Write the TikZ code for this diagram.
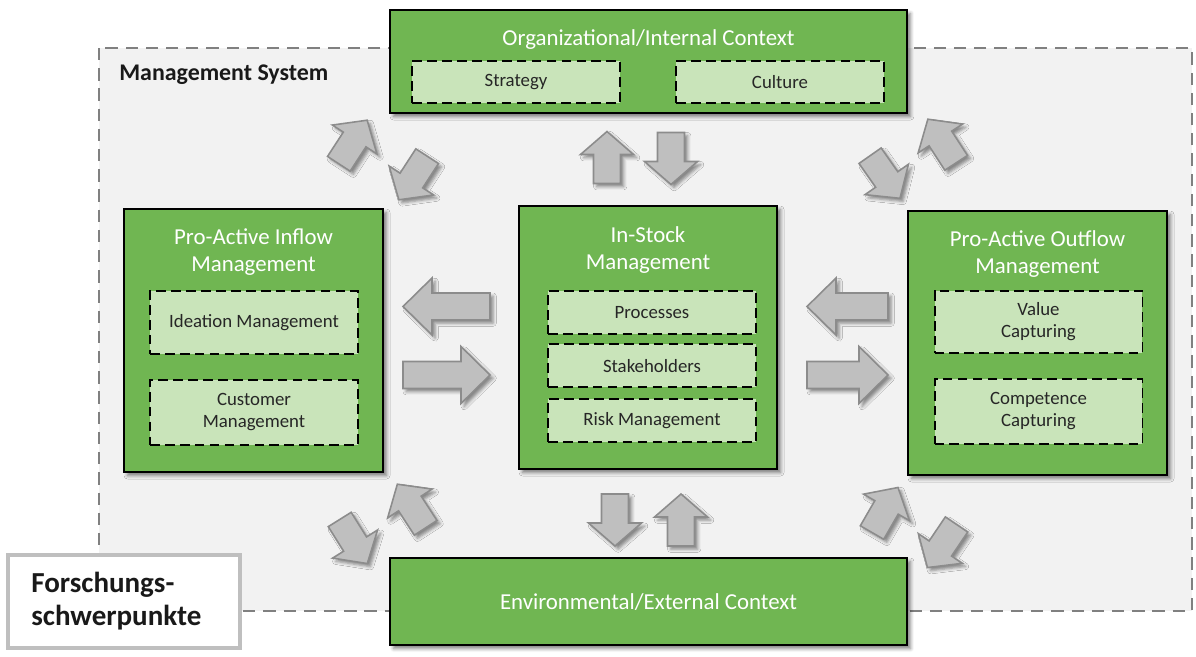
\documentclass[tikz,border=0pt]{standalone}
\usepackage{fontspec}
\setmainfont{Carlito}
\usepackage{tikz}
\usetikzlibrary{positioning,shadows.blur}
\definecolor{boxgreen}{HTML}{70B652}
\definecolor{subgreen}{HTML}{C9E4BA}
\definecolor{fatgray}{HTML}{BFBFBF}
\definecolor{fatline}{HTML}{8C8C8C}
\definecolor{bggray}{HTML}{F2F2F2}
\definecolor{framegray}{HTML}{808080}
\definecolor{labelgray}{HTML}{BFBFBF}
\tikzset{
    %Define style for the green boxes
    mainbox/.style={
           rectangle,
           draw=black, line width=1.1pt,
           fill=boxgreen,
           inner sep=0pt,
           blur shadow={shadow xshift=2pt, shadow yshift=-2pt,
                        shadow blur radius=2pt, shadow opacity=50}},
    %Define style for the dashed boxes inside
    subbox/.style={
           rectangle,
           draw=black, line width=1.1pt,
           dash pattern=on 5.5pt off 3pt,
           fill=subgreen,
           minimum width=4.16cm,
           align=center,
           text=black!85,
           font=\fontsize{10.7}{12.5}\selectfont},
    %Define style for box titles
    boxtitle/.style={
           align=center,
           text=white,
           inner sep=0pt,
           font=\fontsize{13}{15.3}\selectfont},
    %Define style for the block arrows
    fatshape/.style={
           draw=fatline, line width=0.9pt,
           fill=fatgray,
           blur shadow={shadow xshift=1.8pt, shadow yshift=-1.8pt,
                        shadow blur radius=1.8pt, shadow opacity=45}},
    fatshort/.pic={
           \path[fatshape] (-26,-13.5) -- (3,-13.5) -- (3,-26.5) -- (26,0)
                -- (3,26.5) -- (3,13.5) -- (-26,13.5) -- cycle;},
    fatlong/.pic={
           \path[fatshape] (-43.5,-13.5) -- (14.5,-13.5) -- (14.5,-28.5) -- (43.5,0)
                -- (14.5,28.5) -- (14.5,13.5) -- (-43.5,13.5) -- cycle;},
    fatmid/.pic={
           \path[fatshape] (-40.5,-13.5) -- (11.5,-13.5) -- (11.5,-28.5) -- (40.5,0)
                -- (11.5,28.5) -- (11.5,13.5) -- (-40.5,13.5) -- cycle;}
}
\begin{document}
\begin{tikzpicture}[x=0.02cm,y=-0.02cm]
\useasboundingbox (0,0) rectangle (1196,656);
 %frame
\draw[framegray, line width=1.1pt, dash pattern=on 7pt off 4.5pt, fill=bggray]
  (99,48) rectangle (1192,611);
\node[anchor=west, inner sep=0pt, text=black!90,
  font=\bfseries\fontsize{13.6}{16}\selectfont] (ms) at (119,75) {Management System};
 %arrows
\pic[rotate=57] at (353,142) {fatshort};
\pic[rotate=237] at (413,178) {fatshort};
\pic[rotate=-55] at (885,177) {fatshort};
\pic[rotate=123] at (942,141) {fatshort};
\pic[rotate=-58] at (353.5,541.5) {fatshort};
\pic[rotate=123] at (411.5,506) {fatshort};
\pic[rotate=60] at (885,510) {fatshort};
\pic[rotate=236] at (942,546) {fatshort};
\pic[rotate=90] at (607,157.5) {fatshort};
\pic[rotate=-90] at (671,158.5) {fatshort};
\pic[rotate=-90] at (615,520) {fatshort};
\pic[rotate=90] at (681,520) {fatshort};
\pic[rotate=180] at (446.5,306.5) {fatlong};
\pic at (446.5,375) {fatlong};
\pic[rotate=180] at (847.5,306.5) {fatmid};
\pic at (847.5,375) {fatmid};
 %top box
\node[mainbox, minimum width=10.34cm, minimum height=2.06cm] (org) at (648.5,61.5) {};
\node[boxtitle] (orgt) at (648.5,40) {Organizational/Internal Context};
\node[subbox, minimum height=0.84cm] (strat) at (516,82) {Strategy};
\node[subbox, minimum height=0.84cm] (cult) at (780,82) {Culture};
 %inflow
\node[mainbox, minimum width=5.18cm, minimum height=5.26cm] (in) at (253.5,340.5) {};
\node[boxtitle] (int) at (253.5,252) {Pro-Active Inflow\\Management};
\node[subbox, minimum height=1.26cm] (idea) at (254,322.5) {Ideation Management};
\node[subbox, minimum height=1.3cm, below=0.48cm of idea] (cust) {Customer\\Management};
 %in-stock
\node[mainbox, minimum width=5.16cm, minimum height=5.26cm] (stock) at (648,337.5) {};
\node[boxtitle] (stockt) at (648,250) {In-Stock\\Management};
\node[subbox, minimum height=0.86cm] (proc) at (652,312.5) {Processes};
\node[subbox, minimum height=0.86cm, below=0.17cm of proc] (stake) {Stakeholders};
\node[subbox, minimum height=0.86cm, below=0.2cm of stake] (risk) {Risk Management};
 %outflow
\node[mainbox, minimum width=5.18cm, minimum height=5.28cm] (out) at (1037.5,343) {};
\node[boxtitle] (outt) at (1037.5,254) {Pro-Active Outflow\\Management};
\node[subbox, minimum height=1.24cm] (val) at (1038.5,322) {Value\\Capturing};
\node[subbox, minimum height=1.3cm, below=0.48cm of val] (comp) {Competence\\Capturing};
 %bottom box
\node[mainbox, minimum width=10.34cm, minimum height=1.74cm] (env) at (648.5,601.5) {};
\node[boxtitle] (envt) at (648.5,602) {Environmental/External Context};
 %label
\node[rectangle, draw=labelgray, line width=2pt, fill=white,
  minimum width=4.64cm, minimum height=1.86cm] (lab) at (124,601.5) {};
\node[anchor=west, align=left, inner sep=0pt, text=black!90,
  font=\bfseries\fontsize{16.5}{18.7}\selectfont] (labt) at (31,601) {Forschungs-\\schwerpunkte};
\end{tikzpicture}
\end{document}
